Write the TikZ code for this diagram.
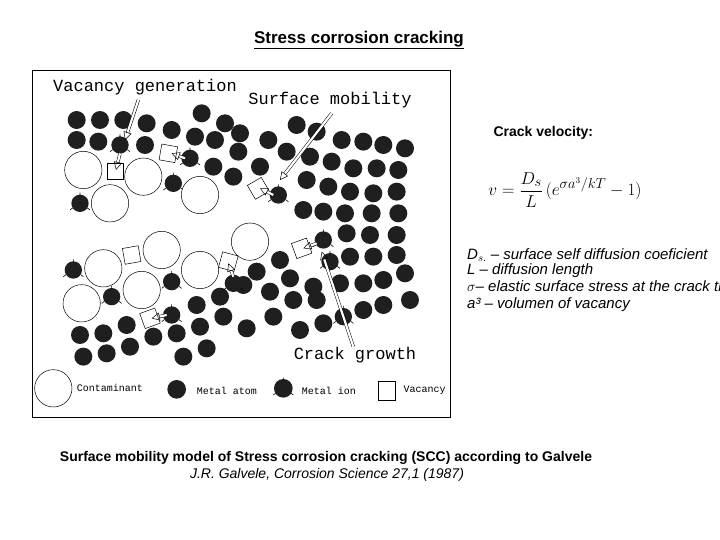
\documentclass[tikz,border=0pt]{standalone}
\usepackage{fontspec}
\setmainfont{Liberation Sans}
\setmonofont{Liberation Mono}
\usetikzlibrary{arrows.meta}
\begin{document}
\begin{tikzpicture}[x=1pt,y=-1pt,
  atom/.style={fill=black!88},
  cont/.style={draw=black,line width=0.5pt,fill=white},
  vac/.style={draw=black,line width=0.5pt,fill=white},
  harrow/.style={line width=0.5pt,double=white,double distance=2.2pt,-{Triangle[open,length=8pt,width=8pt]}},
  lab/.style={font=\fontsize{17}{17}\ttfamily,inner sep=0pt},
  leg/.style={font=\fontsize{10}{10}\ttfamily,inner sep=0pt},
  info/.style={font=\fontsize{15}{17}\itshape,inner sep=0pt,anchor=west}]
\useasboundingbox (0,0) rectangle (720,540);
\node[font=\fontsize{17}{17}\bfseries] (title) at (359,40) {\underline{Stress corrosion cracking}};
\draw[line width=0.8pt] (32,70) rectangle (450,417);
\begin{scope}[shift={(30,70)},scale=1/3]
\foreach \x/\y in {140/150,210/150,280/150,350/160,425/180,515/130,585/160,140/210,205/215,345/225,495/200,555/210,630/190,715/210,800/165,860/185,935/210,1000/215,1060/225,1125/235,625/245,550/290,610/320,690/290,770/245,840/260,905/275,970/295,1040/295,1105/300,830/330,895/350,960/365,1030/370,1100/365,820/420,880/425,945/430,1025/430,1105/430,950/490,1020/495,1100/495,960/560,1030/560,1100/555,750/570,680/605,780/625,850/650,930/640,1000/640,1060/630,1125/610,500/705,570/680,640/645,720/665,790/690,860/690,1000/720,1060/705,1140/690,150/795,220/790,290/765,370/800,440/790,510/770,580/740,650/775,730/740,810/780,880/760,160/860,230/850,300/830,460/860,530/835}
  \fill[atom] (\x,\y) circle (27);
\foreach \x/\y in {270/225,150/400,430/340,130/600,245/680,425/635,610/640,480/265,745/375,880/510,900/575,425/735,940/740}{
  \fill[atom] (\x,\y) circle (26);
  \draw[line width=0.6pt] (\x-30,\y+20) -- (\x-22,\y+14) (\x+30,\y+20) -- (\x+22,\y+14) (\x,\y-32) -- (\x,\y-24);}
\foreach \x/\y in {160/300,240/400,340/320,510/375,220/595,395/540,660/515,510/600,335/660,155/700}
  \draw[cont] (\x,\y) circle (56);
\foreach \x/\y/\a in {255/305/0,415/250/-10,685/355/30,815/535/20,305/555/10,595/575/-15,360/745/20}
  \draw[vac,rotate around={\a:(\x,\y)}] (\x-24,\y-24) rectangle (\x+24,\y+24);
\draw[harrow] (325,90) -- (285,210);
\draw[harrow] (270,250) -- (258,300);
\draw[harrow] (905,130) -- (750,330);
\draw[harrow] (970,830) -- (875,545);
\draw[harrow] (465,265) -- (425,250);
\draw[harrow] (730,375) -- (690,355);
\draw[harrow] (860,520) -- (820,535);
\draw[harrow] (410,735) -- (365,745);
\draw[harrow] (610,620) -- (595,580);
\node[lab] (vg) at (345,50) {Vacancy generation};
\node[lab] (sm) at (900,90) {Surface mobility};
\node[lab] (cg) at (975,855) {Crack growth};
\draw[cont] (70,955) circle (56);
\node[leg,anchor=west] (l1) at (140,955) {Contaminant};
\fill[atom] (440,958) circle (28);
\node[leg,anchor=west] (l2) at (500,962) {Metal atom};
\fill[atom] (760,955) circle (28);
\draw[line width=0.6pt] (730,975) -- (738,969) (790,975) -- (782,969) (760,923) -- (760,931);
\node[leg,anchor=west] (l3) at (815,962) {Metal ion};
\draw[vac] (1045,935) rectangle (1095,990);
\node[leg,anchor=west] (l4) at (1120,962) {Vacancy};
\end{scope}
\node[font=\fontsize{14}{14}\bfseries,anchor=west] (cv) at (490,133) {Crack velocity:};
\node (eq) at (565,190) {\fontsize{19}{22}\selectfont $\displaystyle v=\frac{D_s}{L}\,(e^{\sigma a^3/kT}-1)$};
\node[info] (d1) at (467,255) {D$_{s.}$ -- surface self diffusion coeficient};
\node[info] (d2) at (467,271) {L -- diffusion length};
\node[info] (d3) at (467,288) {$\sigma$-- elastic surface stress at the crack tip};
\node[info] (d4) at (467,305) {a³ -- volumen of vacancy};
\node[font=\fontsize{14}{14}\bfseries] (cap1) at (326,458) {Surface mobility model of Stress corrosion cracking (SCC) according to Galvele};
\node[font=\fontsize{14}{14}\itshape] (cap2) at (327,475) {J.R. Galvele, Corrosion Science 27,1 (1987)};
\end{tikzpicture}
\end{document}
